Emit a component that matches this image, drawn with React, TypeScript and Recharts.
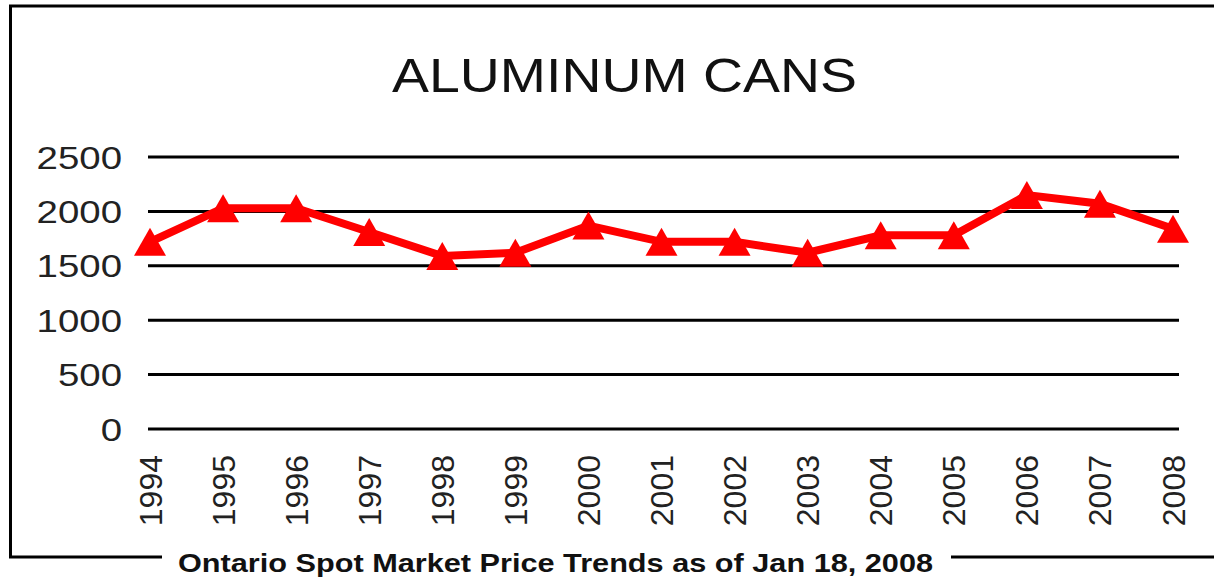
// Aluminum cans — Ontario spot market price trend
import React from "react";
import { LineChart, Line, XAxis, YAxis, CartesianGrid } from "recharts";

const years = [
  "1994", "1995", "1996", "1997", "1998", "1999", "2000", "2001",
  "2002", "2003", "2004", "2005", "2006", "2007", "2008",
];
const prices = [
  1720, 2030, 2030, 1810, 1590, 1620, 1870, 1720,
  1720, 1620, 1780, 1780, 2150, 2070, 1840,
];
const yTicks = [0, 500, 1000, 1500, 2000, 2500];

const title = "ALUMINUM CANS";
const caption = "Ontario Spot Market Price Trends as of Jan 18, 2008";

const data = years.map((year, i) => ({ year, price: prices[i] }));

const FONT = '"Liberation Sans", Arial, sans-serif';

function YTick(props: any) {
  const { x, y, payload } = props;
  return (
    <g transform={`translate(${x},${y}) scale(1.2,1)`}>
      <text x={0} y={0} dy="0.36em" textAnchor="end" fontSize={32} fill="#222" fontFamily={FONT}>
        {payload.value}
      </text>
    </g>
  );
}

function XTick(props: any) {
  const { x, y, payload } = props;
  return (
    <g transform={`translate(${x},${y}) rotate(-90)`}>
      <text x={0} y={0} dy="0.36em" textAnchor="end" fontSize={32} fill="#222" fontFamily={FONT}>
        {payload.value}
      </text>
    </g>
  );
}

function TriangleDot(props: any) {
  const { cx, cy } = props;
  if (cx == null || cy == null) return null;
  const w = 16;
  const h = 14;
  return (
    <polygon
      points={`${cx},${cy - h} ${cx + w},${cy + h} ${cx - w},${cy + h}`}
      fill="#FF0000"
    />
  );
}

export default function App() {
  return (
    <div
      style={{
        position: "absolute", left: 0, top: 0,
        width: 1214, height: 582, background: "#fff", overflow: "hidden",
      }}
    >
      <LineChart
        width={1214}
        height={582}
        data={data}
        margin={{ top: 157, right: 35, left: 0, bottom: 0 }}
      >
        <CartesianGrid vertical={false} stroke="#000" strokeWidth={3} />
        <XAxis
          dataKey="year"
          height={153}
          interval={0}
          axisLine={false}
          tickLine={false}
          tickSize={0}
          tickMargin={26}
          padding={{ left: 2, right: 6 }}
          tick={<XTick />}
        />
        <YAxis
          width={148}
          domain={[0, 2500]}
          ticks={yTicks}
          axisLine={false}
          tickLine={false}
          tickSize={0}
          tickMargin={26}
          tick={<YTick />}
        />
        <Line
          type="linear"
          dataKey="price"
          stroke="#FF0000"
          strokeWidth={8}
          dot={<TriangleDot />}
          activeDot={false}
          isAnimationActive={false}
        />
      </LineChart>

      <svg
        width={1214}
        height={582}
        style={{ position: "absolute", left: 0, top: 0, pointerEvents: "none" }}
      >
        <text
          x={392} y={92} fontSize={49} fontFamily={FONT} fill="#111"
          textLength={465} lengthAdjust="spacingAndGlyphs"
        >
          {title}
        </text>
        <path d="M10.5,1214 M1214,6 L10.5,6 L10.5,557 L162,557" fill="none" stroke="#000" strokeWidth={3} />
        <line x1={951} y1={557} x2={1214} y2={557} stroke="#000" strokeWidth={3} />
        <text
          x={178} y={572} fontSize={26} fontWeight="bold" fontFamily={FONT} fill="#111"
          textLength={755} lengthAdjust="spacingAndGlyphs"
        >
          {caption}
        </text>
      </svg>
    </div>
  );
}
